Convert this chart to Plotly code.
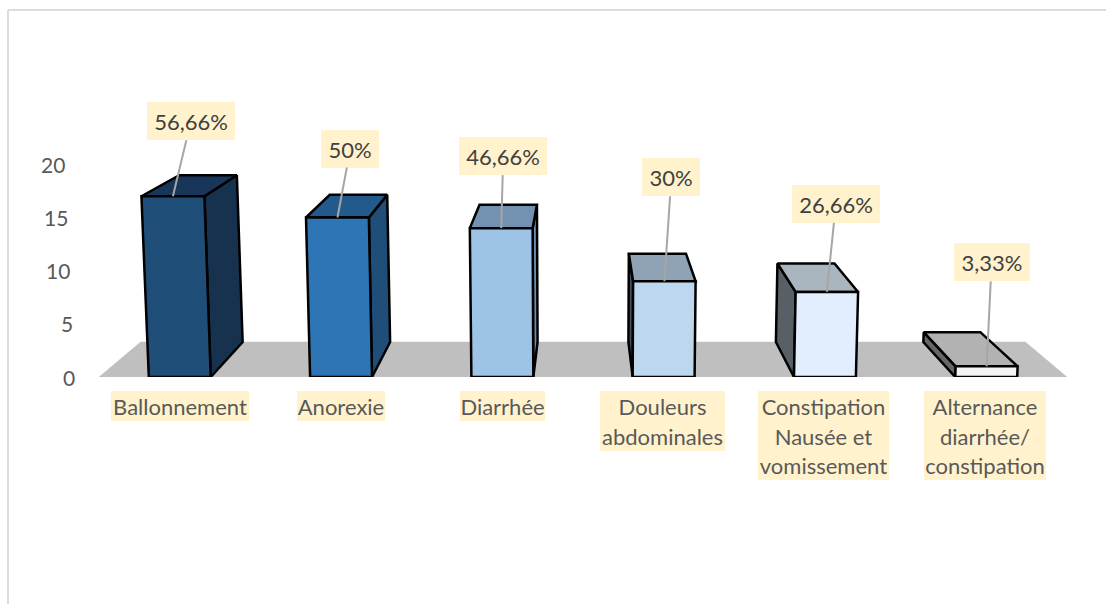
import plotly.graph_objects as go

# Symptom counts (out of 30 patients) and the percentages printed above them
categories = [
    ["Ballonnement"],
    ["Anorexie"],
    ["Diarrhée"],
    ["Douleurs", "abdominales"],
    ["Constipation", "Nausée et", "vomissement"],
    ["Alternance", "diarrhée/", "constipation"],
]
counts = [17, 15, 14, 9, 8, 1]
percent_labels = ["56,66%", "50%", "46,66%", "30%", "26,66%", "3,33%"]
tick_values = [0, 5, 10, 15, 20]

# Face colours per bar
front_colors = ["#1F4E79", "#2E75B6", "#9DC3E6", "#BDD7EE", "#E2EEFD", "#F4F4F4"]
side_colors = ["#17324F", "#1F4E79", "#6A8DB3", "#44525F", "#585F66", "#666666"]
top_colors = ["#17365A", "#225A8C", "#7391B0", "#8FA3B5", "#A9B5BF", "#B2B2B2"]

# Label callout layout: pixel offsets from the bar top, box widths
callout_ax = [18, 13, 2, 7, 9, 5]
callout_ay = [-75, -69, -72, -104, -88, -104]
callout_w = [88, 58, 88, 58, 88, 76]
# Category label boxes
cat_box_w = [138, 88, 85, 125, 131, 122]
cat_shift = [0, 0, 0, -1, -1.5, -1.5]

# Perspective of the 3-D box chart, in axis units
CENTER = 2.5
BAR_HALF = 0.192
TILT = 0.001
DEPTH_X = 0.0857
DEPTH_Y0 = 3.29
DEPTH_Y1 = 0.0773


def project(u, v, d=0):
    """Category position u, height v, depth d (0 front, 1 back) to axis coordinates."""
    x = u + DEPTH_X * (CENTER - u) * d
    x = CENTER + (x - CENTER) * (1 + TILT * v)
    y = v + d * (DEPTH_Y0 - DEPTH_Y1 * v)
    return x, y


def face(corners, fill, line_color="#000000", line_width=2.5):
    pts = [project(*c) for c in corners]
    pts.append(pts[0])
    return go.Scatter(
        x=[p[0] for p in pts],
        y=[p[1] for p in pts],
        mode="lines",
        fill="toself",
        fillcolor=fill,
        line=dict(color=line_color, width=line_width),
        hoverinfo="skip",
        cliponaxis=False,
        showlegend=False,
    )


fig = go.Figure()

# Floor of the 3-D chart
fig.add_trace(face([(-0.5, 0, 0), (5.5, 0, 0), (5.5, 0, 1), (-0.5, 0, 1)],
                   "#BFBFBF", "#BFBFBF", 0.5))

for i, value in enumerate(counts):
    l, r = i - BAR_HALF, i + BAR_HALF
    # Visible side wall faces away from the chart centre line
    side_u = r if i < CENTER else l
    fig.add_trace(face([(side_u, 0, 0), (side_u, value, 0), (side_u, value, 1), (side_u, 0, 1)],
                       side_colors[i]))
    fig.add_trace(face([(l, value, 0), (r, value, 0), (r, value, 1), (l, value, 1)],
                       top_colors[i]))
    fig.add_trace(face([(l, 0, 0), (r, 0, 0), (r, value, 0), (l, value, 0)],
                       front_colors[i]))

FONT = "Lato"
FONT_SIZE = 22
annotations = []

# Value axis labels follow the tilt of the left wall edge
for t in tick_values:
    x, y = project(-0.5, t, 0)
    annotations.append(dict(
        x=x, y=y, xref="x", yref="y", text=str(t), showarrow=False,
        xanchor="right", yanchor="middle", xshift=-22,
        font=dict(family=FONT, size=21, color="#595959"),
    ))

# Percentage callouts with leader lines down to the bar tops
for i, value in enumerate(counts):
    x, y = project(i, value, 0)
    annotations.append(dict(
        x=x, y=y, xref="x", yref="y", text=percent_labels[i],
        showarrow=True, arrowhead=0, arrowwidth=2, arrowcolor="#A6A6A6", standoff=0,
        ax=callout_ax[i], ay=callout_ay[i],
        width=callout_w[i], height=38, bgcolor="#FFF2CC", borderpad=0, borderwidth=0,
        align="center", valign="middle",
        font=dict(family=FONT, size=FONT_SIZE, color="#404040"),
    ))

# Category labels, one annotation per line so the line pitch stays even
LINE_H = 29.7
for i, lines in enumerate(categories):
    for j, line in enumerate(lines):
        annotations.append(dict(
            x=i, y=0, xref="x", yref="y", text=line, showarrow=False,
            xanchor="center", yanchor="top",
            xshift=cat_shift[i], yshift=-14 - j * LINE_H,
            width=cat_box_w[i], height=30, bgcolor="#FFF2CC", borderpad=0, borderwidth=0,
            align="center", valign="middle",
            font=dict(family=FONT, size=FONT_SIZE, color="#595959"),
        ))

# The x range runs a little past the floor so the tilted tick labels stay in range
PLOT_L, PLOT_W, PLOT_T, PLOT_H = 83, 1000, 58, 319

# Chart-area frame: top and left edges only
frame_x0 = (8 - PLOT_L) / PLOT_W
frame_x1 = (1106 - PLOT_L) / PLOT_W
frame_y0 = 1 - (604 - PLOT_T) / PLOT_H
frame_y1 = 1 - (10 - PLOT_T) / PLOT_H
frame_line = dict(color="#DCDCDC", width=2)
shapes = [
    dict(type="line", xref="paper", yref="paper", x0=frame_x0, x1=frame_x1,
         y0=frame_y1, y1=frame_y1, line=frame_line),
    dict(type="line", xref="paper", yref="paper", x0=frame_x0, x1=frame_x0,
         y0=frame_y0, y1=frame_y1, line=frame_line),
]

fig.update_layout(
    width=1106,
    height=604,
    autosize=False,
    margin=dict(l=PLOT_L, r=1106 - PLOT_L - PLOT_W, t=PLOT_T, b=604 - PLOT_T - PLOT_H,
                autoexpand=False),
    paper_bgcolor="#FFFFFF",
    plot_bgcolor="#FFFFFF",
    hovermode=False,
    showlegend=False,
    annotations=annotations,
    shapes=shapes,
    xaxis=dict(range=[-0.6, 5.6], visible=False, fixedrange=True),
    yaxis=dict(range=[0, 30], visible=False, fixedrange=True),
)

fig.write_html("out.html", config={"displayModeBar": False})
